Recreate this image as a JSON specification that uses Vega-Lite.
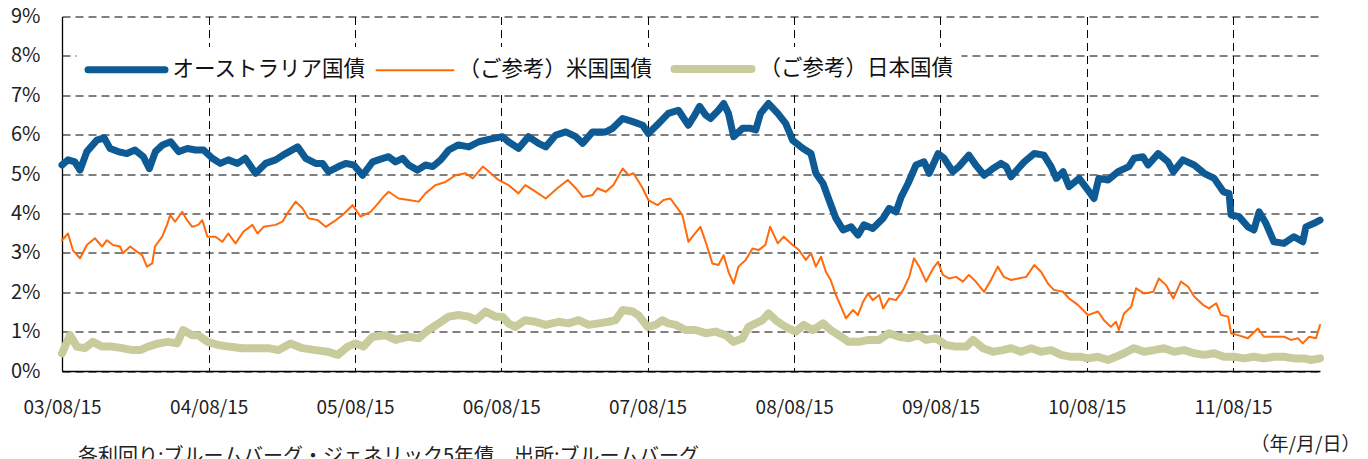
{
  "$schema": "https://vega.github.io/schema/vega-lite/v6.json",
  "autosize": {"type": "none"},
  "width": 1258,
  "height": 354.5,
  "padding": {"left": 62, "top": 16.5, "right": 48, "bottom": 88},
  "background": "white",
  "config": {"view": {"stroke": null}, "font": "Noto Sans CJK JP"},
  "title": {
    "text": "各利回り:ブルームバーグ・ジェネリック5年債　出所:ブルームバーグ",
    "orient": "bottom", "anchor": "start", "frame": "group", "dx": 16, "offset": -7,
    "fontSize": 20, "fontWeight": "normal", "color": "#222", "font": "Noto Sans CJK JP"
  },
  "data": {"values": [
    {"date": "2003-08-15", "series": "オーストラリア国債", "value": 5.23},
    {"date": "2003-08-30", "series": "オーストラリア国債", "value": 5.36},
    {"date": "2003-09-16", "series": "オーストラリア国債", "value": 5.31},
    {"date": "2003-09-29", "series": "オーストラリア国債", "value": 5.10},
    {"date": "2003-10-16", "series": "オーストラリア国債", "value": 5.57},
    {"date": "2003-11-10", "series": "オーストラリア国債", "value": 5.86},
    {"date": "2003-11-28", "series": "オーストラリア国債", "value": 5.92},
    {"date": "2003-12-13", "series": "オーストラリア国債", "value": 5.65},
    {"date": "2004-01-02", "series": "オーストラリア国債", "value": 5.57},
    {"date": "2004-01-24", "series": "オーストラリア国債", "value": 5.52},
    {"date": "2004-02-13", "series": "オーストラリア国債", "value": 5.61},
    {"date": "2004-03-05", "series": "オーストラリア国債", "value": 5.44},
    {"date": "2004-03-20", "series": "オーストラリア国債", "value": 5.14},
    {"date": "2004-04-04", "series": "オーストラリア国債", "value": 5.57},
    {"date": "2004-04-22", "series": "オーストラリア国債", "value": 5.74},
    {"date": "2004-05-12", "series": "オーストラリア国債", "value": 5.82},
    {"date": "2004-06-01", "series": "オーストラリア国債", "value": 5.57},
    {"date": "2004-06-23", "series": "オーストラリア国債", "value": 5.65},
    {"date": "2004-07-13", "series": "オーストラリア国債", "value": 5.61},
    {"date": "2004-08-02", "series": "オーストラリア国債", "value": 5.61},
    {"date": "2004-08-24", "series": "オーストラリア国債", "value": 5.40},
    {"date": "2004-09-13", "series": "オーストラリア国債", "value": 5.27},
    {"date": "2004-10-03", "series": "オーストラリア国債", "value": 5.36},
    {"date": "2004-10-26", "series": "オーストラリア国債", "value": 5.27},
    {"date": "2004-11-14", "series": "オーストラリア国債", "value": 5.40},
    {"date": "2004-12-10", "series": "オーストラリア国債", "value": 5.02},
    {"date": "2005-01-04", "series": "オーストラリア国債", "value": 5.27},
    {"date": "2005-01-29", "series": "オーストラリア国債", "value": 5.36},
    {"date": "2005-02-23", "series": "オーストラリア国債", "value": 5.52},
    {"date": "2005-03-25", "series": "オーストラリア国債", "value": 5.69},
    {"date": "2005-04-14", "series": "オーストラリア国債", "value": 5.40},
    {"date": "2005-05-09", "series": "オーストラリア国債", "value": 5.27},
    {"date": "2005-05-26", "series": "オーストラリア国債", "value": 5.27},
    {"date": "2005-06-10", "series": "オーストラリア国債", "value": 5.06},
    {"date": "2005-07-05", "series": "オーストラリア国債", "value": 5.19},
    {"date": "2005-07-23", "series": "オーストラリア国債", "value": 5.27},
    {"date": "2005-08-12", "series": "オーストラリア国債", "value": 5.23},
    {"date": "2005-09-03", "series": "オーストラリア国債", "value": 4.97},
    {"date": "2005-09-28", "series": "オーストラリア国債", "value": 5.31},
    {"date": "2005-10-18", "series": "オーストラリア国債", "value": 5.38},
    {"date": "2005-11-07", "series": "オーストラリア国債", "value": 5.44},
    {"date": "2005-11-24", "series": "オーストラリア国債", "value": 5.31},
    {"date": "2005-12-12", "series": "オーストラリア国債", "value": 5.40},
    {"date": "2005-12-27", "series": "オーストラリア国債", "value": 5.23},
    {"date": "2006-01-18", "series": "オーストラリア国債", "value": 5.10},
    {"date": "2006-02-07", "series": "オーストラリア国債", "value": 5.23},
    {"date": "2006-02-25", "series": "オーストラリア国債", "value": 5.19},
    {"date": "2006-03-17", "series": "オーストラリア国債", "value": 5.36},
    {"date": "2006-04-06", "series": "オーストラリア国債", "value": 5.61},
    {"date": "2006-04-30", "series": "オーストラリア国債", "value": 5.74},
    {"date": "2006-05-26", "series": "オーストラリア国債", "value": 5.69},
    {"date": "2006-06-20", "series": "オーストラリア国債", "value": 5.82},
    {"date": "2006-07-15", "series": "オーストラリア国債", "value": 5.88},
    {"date": "2006-08-18", "series": "オーストラリア国債", "value": 5.95},
    {"date": "2006-09-02", "series": "オーストラリア国債", "value": 5.82},
    {"date": "2006-09-27", "series": "オーストラリア国債", "value": 5.65},
    {"date": "2006-10-22", "series": "オーストラリア国債", "value": 5.95},
    {"date": "2006-11-16", "series": "オーストラリア国債", "value": 5.78},
    {"date": "2006-12-04", "series": "オーストラリア国債", "value": 5.69},
    {"date": "2006-12-29", "series": "オーストラリア国債", "value": 5.99},
    {"date": "2007-01-23", "series": "オーストラリア国債", "value": 6.07},
    {"date": "2007-02-17", "series": "オーストラリア国債", "value": 5.95},
    {"date": "2007-03-06", "series": "オーストラリア国債", "value": 5.78},
    {"date": "2007-03-31", "series": "オーストラリア国債", "value": 6.07},
    {"date": "2007-05-03", "series": "オーストラリア国債", "value": 6.07},
    {"date": "2007-05-20", "series": "オーストラリア国債", "value": 6.16},
    {"date": "2007-06-14", "series": "オーストラリア国債", "value": 6.41},
    {"date": "2007-07-09", "series": "オーストラリア国債", "value": 6.33},
    {"date": "2007-08-03", "series": "オーストラリア国債", "value": 6.24},
    {"date": "2007-08-17", "series": "オーストラリア国債", "value": 6.03},
    {"date": "2007-09-11", "series": "オーストラリア国債", "value": 6.28},
    {"date": "2007-10-06", "series": "オーストラリア国債", "value": 6.54},
    {"date": "2007-10-31", "series": "オーストラリア国債", "value": 6.62},
    {"date": "2007-11-25", "series": "オーストラリア国債", "value": 6.24},
    {"date": "2007-12-08", "series": "オーストラリア国債", "value": 6.45},
    {"date": "2007-12-23", "series": "オーストラリア国債", "value": 6.72},
    {"date": "2008-01-07", "series": "オーストラリア国債", "value": 6.50},
    {"date": "2008-01-19", "series": "オーストラリア国債", "value": 6.41},
    {"date": "2008-02-08", "series": "オーストラリア国債", "value": 6.62},
    {"date": "2008-02-21", "series": "オーストラリア国債", "value": 6.79},
    {"date": "2008-03-04", "series": "オーストラリア国債", "value": 6.54},
    {"date": "2008-03-17", "series": "オーストラリア国債", "value": 5.95},
    {"date": "2008-04-08", "series": "オーストラリア国債", "value": 6.16},
    {"date": "2008-04-28", "series": "オーストラリア国債", "value": 6.16},
    {"date": "2008-05-11", "series": "オーストラリア国債", "value": 6.12},
    {"date": "2008-05-23", "series": "オーストラリア国債", "value": 6.54},
    {"date": "2008-06-12", "series": "オーストラリア国債", "value": 6.79},
    {"date": "2008-07-05", "series": "オーストラリア国債", "value": 6.54},
    {"date": "2008-07-25", "series": "オーストラリア国債", "value": 6.28},
    {"date": "2008-08-11", "series": "オーストラリア国債", "value": 5.86},
    {"date": "2008-09-06", "series": "オーストラリア国債", "value": 5.65},
    {"date": "2008-09-26", "series": "オーストラリア国債", "value": 5.52},
    {"date": "2008-10-08", "series": "オーストラリア国債", "value": 5.02},
    {"date": "2008-10-26", "series": "オーストラリア国債", "value": 4.76},
    {"date": "2008-11-10", "series": "オーストラリア国債", "value": 4.34},
    {"date": "2008-11-27", "series": "オーストラリア国債", "value": 3.88},
    {"date": "2008-12-15", "series": "オーストラリア国債", "value": 3.58},
    {"date": "2009-01-04", "series": "オーストラリア国債", "value": 3.66},
    {"date": "2009-01-21", "series": "オーストラリア国債", "value": 3.45},
    {"date": "2009-02-05", "series": "オーストラリア国債", "value": 3.71},
    {"date": "2009-02-27", "series": "オーストラリア国債", "value": 3.62},
    {"date": "2009-03-25", "series": "オーストラリア国債", "value": 3.88},
    {"date": "2009-04-09", "series": "オーストラリア国債", "value": 4.13},
    {"date": "2009-04-26", "series": "オーストラリア国債", "value": 4.04},
    {"date": "2009-05-09", "series": "オーストラリア国債", "value": 4.42},
    {"date": "2009-05-26", "series": "オーストラリア国債", "value": 4.76},
    {"date": "2009-06-15", "series": "オーストラリア国債", "value": 5.23},
    {"date": "2009-07-05", "series": "オーストラリア国債", "value": 5.31},
    {"date": "2009-07-18", "series": "オーストラリア国債", "value": 5.02},
    {"date": "2009-08-09", "series": "オーストラリア国債", "value": 5.52},
    {"date": "2009-08-24", "series": "オーストラリア国債", "value": 5.40},
    {"date": "2009-09-15", "series": "オーストラリア国債", "value": 5.06},
    {"date": "2009-09-30", "series": "オーストラリア国債", "value": 5.19},
    {"date": "2009-10-25", "series": "オーストラリア国債", "value": 5.48},
    {"date": "2009-11-11", "series": "オーストラリア国債", "value": 5.23},
    {"date": "2009-12-02", "series": "オーストラリア国債", "value": 4.97},
    {"date": "2009-12-24", "series": "オーストラリア国債", "value": 5.14},
    {"date": "2010-01-13", "series": "オーストラリア国債", "value": 5.27},
    {"date": "2010-01-26", "series": "オーストラリア国債", "value": 5.19},
    {"date": "2010-02-07", "series": "オーストラリア国債", "value": 4.93},
    {"date": "2010-02-25", "series": "オーストラリア国債", "value": 5.14},
    {"date": "2010-03-12", "series": "オーストラリア国債", "value": 5.31},
    {"date": "2010-04-06", "series": "オーストラリア国債", "value": 5.52},
    {"date": "2010-04-30", "series": "オーストラリア国債", "value": 5.48},
    {"date": "2010-05-18", "series": "オーストラリア国債", "value": 5.19},
    {"date": "2010-05-31", "series": "オーストラリア国債", "value": 4.89},
    {"date": "2010-06-17", "series": "オーストラリア国債", "value": 5.06},
    {"date": "2010-07-02", "series": "オーストラリア国債", "value": 4.68},
    {"date": "2010-07-27", "series": "オーストラリア国債", "value": 4.89},
    {"date": "2010-08-18", "series": "オーストラリア国債", "value": 4.59},
    {"date": "2010-09-02", "series": "オーストラリア国債", "value": 4.38},
    {"date": "2010-09-14", "series": "オーストラリア国債", "value": 4.89},
    {"date": "2010-10-07", "series": "オーストラリア国債", "value": 4.85},
    {"date": "2010-11-01", "series": "オーストラリア国債", "value": 5.06},
    {"date": "2010-11-28", "series": "オーストラリア国債", "value": 5.19},
    {"date": "2010-12-11", "series": "オーストラリア国債", "value": 5.40},
    {"date": "2011-01-02", "series": "オーストラリア国債", "value": 5.44},
    {"date": "2011-01-15", "series": "オーストラリア国債", "value": 5.23},
    {"date": "2011-02-09", "series": "オーストラリア国債", "value": 5.52},
    {"date": "2011-03-06", "series": "オーストラリア国債", "value": 5.31},
    {"date": "2011-03-19", "series": "オーストラリア国債", "value": 5.06},
    {"date": "2011-04-12", "series": "オーストラリア国債", "value": 5.36},
    {"date": "2011-05-10", "series": "オーストラリア国債", "value": 5.23},
    {"date": "2011-06-04", "series": "オーストラリア国債", "value": 5.02},
    {"date": "2011-06-29", "series": "オーストラリア国債", "value": 4.89},
    {"date": "2011-07-22", "series": "オーストラリア国債", "value": 4.55},
    {"date": "2011-08-05", "series": "オーストラリア国債", "value": 4.51},
    {"date": "2011-08-10", "series": "オーストラリア国債", "value": 3.96},
    {"date": "2011-08-30", "series": "オーストラリア国債", "value": 3.92},
    {"date": "2011-09-21", "series": "オーストラリア国債", "value": 3.66},
    {"date": "2011-10-06", "series": "オーストラリア国債", "value": 3.58},
    {"date": "2011-10-19", "series": "オーストラリア国債", "value": 4.04},
    {"date": "2011-11-05", "series": "オーストラリア国債", "value": 3.75},
    {"date": "2011-11-25", "series": "オーストラリア国債", "value": 3.28},
    {"date": "2011-12-20", "series": "オーストラリア国債", "value": 3.24},
    {"date": "2012-01-14", "series": "オーストラリア国債", "value": 3.41},
    {"date": "2012-02-05", "series": "オーストラリア国債", "value": 3.28},
    {"date": "2012-02-13", "series": "オーストラリア国債", "value": 3.66},
    {"date": "2012-03-04", "series": "オーストラリア国債", "value": 3.75},
    {"date": "2012-03-19", "series": "オーストラリア国債", "value": 3.83},

    {"date": "2003-08-15", "series": "（ご参考）米国国債", "value": 3.32},
    {"date": "2003-08-30", "series": "（ご参考）米国国債", "value": 3.49},
    {"date": "2003-09-11", "series": "（ご参考）米国国債", "value": 3.07},
    {"date": "2003-09-29", "series": "（ご参考）米国国債", "value": 2.86},
    {"date": "2003-10-16", "series": "（ご参考）米国国債", "value": 3.20},
    {"date": "2003-11-05", "series": "（ご参考）米国国債", "value": 3.37},
    {"date": "2003-11-23", "series": "（ご参考）米国国債", "value": 3.16},
    {"date": "2003-12-05", "series": "（ご参考）米国国債", "value": 3.32},
    {"date": "2003-12-20", "series": "（ご参考）米国国債", "value": 3.20},
    {"date": "2004-01-07", "series": "（ご参考）米国国債", "value": 3.16},
    {"date": "2004-01-14", "series": "（ご参考）米国国債", "value": 2.99},
    {"date": "2004-02-01", "series": "（ご参考）米国国債", "value": 3.16},
    {"date": "2004-02-18", "series": "（ご参考）米国国債", "value": 3.03},
    {"date": "2004-03-02", "series": "（ご参考）米国国債", "value": 2.94},
    {"date": "2004-03-14", "series": "（ご参考）米国国債", "value": 2.65},
    {"date": "2004-03-27", "series": "（ご参考）米国国債", "value": 2.73},
    {"date": "2004-04-03", "series": "（ご参考）米国国債", "value": 3.16},
    {"date": "2004-04-21", "series": "（ご参考）米国国債", "value": 3.41},
    {"date": "2004-05-03", "series": "（ご参考）米国国債", "value": 3.71},
    {"date": "2004-05-11", "series": "（ご参考）米国国債", "value": 3.96},
    {"date": "2004-05-23", "series": "（ご参考）米国国債", "value": 3.79},
    {"date": "2004-06-10", "series": "（ご参考）米国国債", "value": 4.04},
    {"date": "2004-06-22", "series": "（ご参考）米国国債", "value": 3.83},
    {"date": "2004-07-05", "series": "（ご参考）米国国債", "value": 3.66},
    {"date": "2004-07-20", "series": "（ご参考）米国国債", "value": 3.71},
    {"date": "2004-07-30", "series": "（ご参考）米国国債", "value": 3.83},
    {"date": "2004-08-12", "series": "（ご参考）米国国債", "value": 3.41},
    {"date": "2004-09-01", "series": "（ご参考）米国国債", "value": 3.41},
    {"date": "2004-09-18", "series": "（ご参考）米国国債", "value": 3.28},
    {"date": "2004-10-03", "series": "（ご参考）米国国債", "value": 3.49},
    {"date": "2004-10-21", "series": "（ご参考）米国国債", "value": 3.24},
    {"date": "2004-11-10", "series": "（ご参考）米国国債", "value": 3.54},
    {"date": "2004-12-02", "series": "（ご参考）米国国債", "value": 3.71},
    {"date": "2004-12-15", "series": "（ご参考）米国国債", "value": 3.49},
    {"date": "2004-12-30", "series": "（ご参考）米国国債", "value": 3.66},
    {"date": "2005-01-29", "series": "（ご参考）米国国債", "value": 3.71},
    {"date": "2005-02-15", "series": "（ご参考）米国国債", "value": 3.79},
    {"date": "2005-03-02", "series": "（ご参考）米国国債", "value": 4.04},
    {"date": "2005-03-20", "series": "（ご参考）米国国債", "value": 4.30},
    {"date": "2005-04-06", "series": "（ご参考）米国国債", "value": 4.13},
    {"date": "2005-04-21", "series": "（ご参考）米国国債", "value": 3.88},
    {"date": "2005-05-14", "series": "（ご参考）米国国債", "value": 3.83},
    {"date": "2005-06-03", "series": "（ご参考）米国国債", "value": 3.66},
    {"date": "2005-06-23", "series": "（ご参考）米国国債", "value": 3.79},
    {"date": "2005-07-15", "series": "（ご参考）米国国債", "value": 3.96},
    {"date": "2005-08-09", "series": "（ご参考）米国国債", "value": 4.21},
    {"date": "2005-08-29", "series": "（ご参考）米国国債", "value": 3.92},
    {"date": "2005-09-23", "series": "（ご参考）米国国債", "value": 4.04},
    {"date": "2005-10-08", "series": "（ご参考）米国国債", "value": 4.21},
    {"date": "2005-10-25", "series": "（ご参考）米国国債", "value": 4.42},
    {"date": "2005-11-07", "series": "（ご参考）米国国債", "value": 4.55},
    {"date": "2005-12-02", "series": "（ご参考）米国国債", "value": 4.38},
    {"date": "2005-12-27", "series": "（ご参考）米国国債", "value": 4.34},
    {"date": "2006-01-21", "series": "（ご参考）米国国債", "value": 4.30},
    {"date": "2006-02-07", "series": "（ご参考）米国国債", "value": 4.51},
    {"date": "2006-03-04", "series": "（ご参考）米国国債", "value": 4.72},
    {"date": "2006-03-29", "series": "（ご参考）米国国債", "value": 4.80},
    {"date": "2006-04-23", "series": "（ご参考）米国国債", "value": 4.97},
    {"date": "2006-05-18", "series": "（ご参考）米国国債", "value": 5.02},
    {"date": "2006-06-05", "series": "（ご参考）米国国債", "value": 4.89},
    {"date": "2006-06-30", "series": "（ご参考）米国国債", "value": 5.19},
    {"date": "2006-07-20", "series": "（ご参考）米国国債", "value": 5.02},
    {"date": "2006-08-08", "series": "（ご参考）米国国債", "value": 4.85},
    {"date": "2006-09-02", "series": "（ご参考）米国国債", "value": 4.72},
    {"date": "2006-09-27", "series": "（ご参考）米国国債", "value": 4.51},
    {"date": "2006-10-14", "series": "（ご参考）米国国債", "value": 4.72},
    {"date": "2006-11-03", "series": "（ご参考）米国国債", "value": 4.59},
    {"date": "2006-12-04", "series": "（ご参考）米国国債", "value": 4.38},
    {"date": "2007-01-02", "series": "（ご参考）米国国債", "value": 4.64},
    {"date": "2007-01-28", "series": "（ご参考）米国国債", "value": 4.85},
    {"date": "2007-02-17", "series": "（ご参考）米国国債", "value": 4.64},
    {"date": "2007-03-06", "series": "（ご参考）米国国債", "value": 4.42},
    {"date": "2007-03-31", "series": "（ご参考）米国国債", "value": 4.47},
    {"date": "2007-04-12", "series": "（ご参考）米国国債", "value": 4.64},
    {"date": "2007-05-03", "series": "（ご参考）米国国債", "value": 4.55},
    {"date": "2007-05-22", "series": "（ご参考）米国国債", "value": 4.72},
    {"date": "2007-06-14", "series": "（ご参考）米国国債", "value": 5.14},
    {"date": "2007-06-29", "series": "（ご参考）米国国債", "value": 4.97},
    {"date": "2007-07-11", "series": "（ご参考）米国国債", "value": 5.02},
    {"date": "2007-08-03", "series": "（ご参考）米国国債", "value": 4.64},
    {"date": "2007-08-17", "series": "（ご参考）米国国債", "value": 4.34},
    {"date": "2007-09-09", "series": "（ご参考）米国国債", "value": 4.21},
    {"date": "2007-09-24", "series": "（ご参考）米国国債", "value": 4.34},
    {"date": "2007-10-11", "series": "（ご参考）米国国債", "value": 4.38},
    {"date": "2007-10-29", "series": "（ご参考）米国国債", "value": 4.13},
    {"date": "2007-11-10", "series": "（ご参考）米国国債", "value": 3.96},
    {"date": "2007-11-25", "series": "（ご参考）米国国債", "value": 3.28},
    {"date": "2007-12-08", "series": "（ご参考）米国国債", "value": 3.45},
    {"date": "2007-12-25", "series": "（ご参考）米国国債", "value": 3.66},
    {"date": "2008-01-07", "series": "（ご参考）米国国債", "value": 3.28},
    {"date": "2008-01-24", "series": "（ご参考）米国国債", "value": 2.73},
    {"date": "2008-02-08", "series": "（ご参考）米国国債", "value": 2.69},
    {"date": "2008-02-21", "series": "（ご参考）米国国債", "value": 2.94},
    {"date": "2008-03-04", "series": "（ご参考）米国国債", "value": 2.52},
    {"date": "2008-03-17", "series": "（ご参考）米国国債", "value": 2.22},
    {"date": "2008-03-29", "series": "（ご参考）米国国債", "value": 2.65},
    {"date": "2008-04-16", "series": "（ご参考）米国国債", "value": 2.82},
    {"date": "2008-05-03", "series": "（ご参考）米国国債", "value": 3.11},
    {"date": "2008-05-18", "series": "（ご参考）米国国債", "value": 3.07},
    {"date": "2008-06-04", "series": "（ご参考）米国国債", "value": 3.20},
    {"date": "2008-06-16", "series": "（ご参考）米国国債", "value": 3.66},
    {"date": "2008-07-05", "series": "（ご参考）米国国債", "value": 3.24},
    {"date": "2008-07-20", "series": "（ご参考）米国国債", "value": 3.41},
    {"date": "2008-08-11", "series": "（ご参考）米国国債", "value": 3.20},
    {"date": "2008-08-27", "series": "（ご参考）米国国債", "value": 3.07},
    {"date": "2008-09-13", "series": "（ご参考）米国国債", "value": 2.82},
    {"date": "2008-09-26", "series": "（ご参考）米国国債", "value": 2.99},
    {"date": "2008-10-08", "series": "（ご参考）米国国債", "value": 2.65},
    {"date": "2008-10-21", "series": "（ご参考）米国国債", "value": 2.90},
    {"date": "2008-11-02", "series": "（ご参考）米国国債", "value": 2.52},
    {"date": "2008-11-14", "series": "（ご参考）米国国債", "value": 2.31},
    {"date": "2008-11-27", "series": "（ご参考）米国国債", "value": 1.93},
    {"date": "2008-12-10", "series": "（ご参考）米国国債", "value": 1.63},
    {"date": "2008-12-22", "series": "（ご参考）米国国債", "value": 1.34},
    {"date": "2009-01-09", "series": "（ご参考）米国国債", "value": 1.55},
    {"date": "2009-01-21", "series": "（ご参考）米国国債", "value": 1.42},
    {"date": "2009-02-03", "series": "（ご参考）米国国債", "value": 1.76},
    {"date": "2009-02-15", "series": "（ご参考）米国国債", "value": 1.97},
    {"date": "2009-02-27", "series": "（ご参考）米国国債", "value": 1.80},
    {"date": "2009-03-15", "series": "（ご参考）米国国債", "value": 1.93},
    {"date": "2009-03-25", "series": "（ご参考）米国国債", "value": 1.59},
    {"date": "2009-04-09", "series": "（ご参考）米国国債", "value": 1.84},
    {"date": "2009-04-26", "series": "（ご参考）米国国債", "value": 1.80},
    {"date": "2009-05-14", "series": "（ご参考）米国国債", "value": 2.06},
    {"date": "2009-05-29", "series": "（ご参考）米国国債", "value": 2.39},
    {"date": "2009-06-10", "series": "（ご参考）米国国債", "value": 2.86},
    {"date": "2009-06-23", "series": "（ご参考）米国国債", "value": 2.65},
    {"date": "2009-07-10", "series": "（ご参考）米国国債", "value": 2.27},
    {"date": "2009-07-28", "series": "（ご参考）米国国債", "value": 2.61},
    {"date": "2009-08-09", "series": "（ご参考）米国国債", "value": 2.77},
    {"date": "2009-08-21", "series": "（ご参考）米国国債", "value": 2.44},
    {"date": "2009-09-05", "series": "（ご参考）米国国債", "value": 2.35},
    {"date": "2009-09-23", "series": "（ご参考）米国国債", "value": 2.39},
    {"date": "2009-10-10", "series": "（ご参考）米国国債", "value": 2.27},
    {"date": "2009-10-25", "series": "（ご参考）米国国債", "value": 2.44},
    {"date": "2009-11-11", "series": "（ご参考）米国国債", "value": 2.27},
    {"date": "2009-12-02", "series": "（ご参考）米国国債", "value": 2.01},
    {"date": "2009-12-19", "series": "（ご参考）米国国債", "value": 2.31},
    {"date": "2010-01-05", "series": "（ご参考）米国国債", "value": 2.65},
    {"date": "2010-01-20", "series": "（ご参考）米国国債", "value": 2.39},
    {"date": "2010-02-07", "series": "（ご参考）米国国債", "value": 2.31},
    {"date": "2010-02-25", "series": "（ご参考）米国国債", "value": 2.35},
    {"date": "2010-03-17", "series": "（ご参考）米国国債", "value": 2.39},
    {"date": "2010-04-06", "series": "（ご参考）米国国債", "value": 2.69},
    {"date": "2010-04-23", "series": "（ご参考）米国国債", "value": 2.52},
    {"date": "2010-05-10", "series": "（ご参考）米国国債", "value": 2.22},
    {"date": "2010-05-25", "series": "（ご参考）米国国債", "value": 2.06},
    {"date": "2010-06-17", "series": "（ご参考）米国国債", "value": 2.01},
    {"date": "2010-07-02", "series": "（ご参考）米国国債", "value": 1.84},
    {"date": "2010-07-24", "series": "（ご参考）米国国債", "value": 1.68},
    {"date": "2010-08-18", "series": "（ご参考）米国国債", "value": 1.42},
    {"date": "2010-09-12", "series": "（ご参考）米国国債", "value": 1.51},
    {"date": "2010-09-27", "series": "（ご参考）米国国債", "value": 1.29},
    {"date": "2010-10-14", "series": "（ご参考）米国国債", "value": 1.12},
    {"date": "2010-10-27", "series": "（ご参考）米国国債", "value": 1.25},
    {"date": "2010-11-03", "series": "（ご参考）米国国債", "value": 1.04},
    {"date": "2010-11-16", "series": "（ご参考）米国国債", "value": 1.46},
    {"date": "2010-12-04", "series": "（ご参考）米国国債", "value": 1.63},
    {"date": "2010-12-16", "series": "（ご参考）米国国債", "value": 2.10},
    {"date": "2011-01-05", "series": "（ご参考）米国国債", "value": 1.97},
    {"date": "2011-01-28", "series": "（ご参考）米国国債", "value": 2.01},
    {"date": "2011-02-11", "series": "（ご参考）米国国債", "value": 2.35},
    {"date": "2011-03-01", "series": "（ご参考）米国国債", "value": 2.18},
    {"date": "2011-03-19", "series": "（ご参考）米国国債", "value": 1.84},
    {"date": "2011-04-07", "series": "（ご参考）米国国債", "value": 2.27},
    {"date": "2011-04-25", "series": "（ご参考）米国国債", "value": 2.14},
    {"date": "2011-05-10", "series": "（ご参考）米国国債", "value": 1.89},
    {"date": "2011-06-01", "series": "（ご参考）米国国債", "value": 1.68},
    {"date": "2011-06-16", "series": "（ご参考）米国国債", "value": 1.59},
    {"date": "2011-07-04", "series": "（ご参考）米国国債", "value": 1.72},
    {"date": "2011-07-16", "series": "（ご参考）米国国債", "value": 1.42},
    {"date": "2011-08-03", "series": "（ご参考）米国国債", "value": 1.38},
    {"date": "2011-08-10", "series": "（ご参考）米国国債", "value": 0.96},
    {"date": "2011-08-27", "series": "（ご参考）米国国債", "value": 0.91},
    {"date": "2011-09-21", "series": "（ご参考）米国国債", "value": 0.83},
    {"date": "2011-10-16", "series": "（ご参考）米国国債", "value": 1.08},
    {"date": "2011-10-31", "series": "（ご参考）米国国債", "value": 0.87},
    {"date": "2011-11-25", "series": "（ご参考）米国国債", "value": 0.87},
    {"date": "2011-12-20", "series": "（ご参考）米国国債", "value": 0.87},
    {"date": "2012-01-07", "series": "（ご参考）米国国債", "value": 0.79},
    {"date": "2012-01-24", "series": "（ご参考）米国国債", "value": 0.83},
    {"date": "2012-02-05", "series": "（ご参考）米国国債", "value": 0.70},
    {"date": "2012-02-21", "series": "（ご参考）米国国債", "value": 0.87},
    {"date": "2012-03-09", "series": "（ご参考）米国国債", "value": 0.83},
    {"date": "2012-03-19", "series": "（ご参考）米国国債", "value": 1.17},

    {"date": "2003-08-15", "series": "（ご参考）日本国債", "value": 0.45},
    {"date": "2003-09-04", "series": "（ご参考）日本国債", "value": 0.91},
    {"date": "2003-09-21", "series": "（ご参考）日本国債", "value": 0.62},
    {"date": "2003-10-11", "series": "（ご参考）日本国債", "value": 0.58},
    {"date": "2003-10-31", "series": "（ご参考）日本国債", "value": 0.74},
    {"date": "2003-11-23", "series": "（ご参考）日本国債", "value": 0.62},
    {"date": "2003-12-18", "series": "（ご参考）日本国債", "value": 0.62},
    {"date": "2004-01-12", "series": "（ご参考）日本国債", "value": 0.58},
    {"date": "2004-02-06", "series": "（ご参考）日本国債", "value": 0.53},
    {"date": "2004-02-26", "series": "（ご参考）日本国債", "value": 0.53},
    {"date": "2004-03-17", "series": "（ご参考）日本国債", "value": 0.62},
    {"date": "2004-04-11", "series": "（ご参考）日本国債", "value": 0.70},
    {"date": "2004-05-06", "series": "（ご参考）日本国債", "value": 0.74},
    {"date": "2004-05-28", "series": "（ご参考）日本国債", "value": 0.70},
    {"date": "2004-06-12", "series": "（ご参考）日本国債", "value": 1.04},
    {"date": "2004-07-05", "series": "（ご参考）日本国債", "value": 0.91},
    {"date": "2004-07-20", "series": "（ご参考）日本国債", "value": 0.91},
    {"date": "2004-08-12", "series": "（ご参考）日本国債", "value": 0.74},
    {"date": "2004-09-08", "series": "（ご参考）日本国債", "value": 0.66},
    {"date": "2004-10-03", "series": "（ご参考）日本国債", "value": 0.62},
    {"date": "2004-11-07", "series": "（ご参考）日本国債", "value": 0.58},
    {"date": "2004-12-10", "series": "（ご参考）日本国債", "value": 0.58},
    {"date": "2005-01-11", "series": "（ご参考）日本国債", "value": 0.58},
    {"date": "2005-02-05", "series": "（ご参考）日本国債", "value": 0.53},
    {"date": "2005-03-07", "series": "（ご参考）日本国債", "value": 0.70},
    {"date": "2005-04-06", "series": "（ご参考）日本国債", "value": 0.58},
    {"date": "2005-05-09", "series": "（ご参考）日本国債", "value": 0.53},
    {"date": "2005-06-07", "series": "（ご参考）日本国債", "value": 0.49},
    {"date": "2005-07-03", "series": "（ご参考）日本国債", "value": 0.41},
    {"date": "2005-07-28", "series": "（ご参考）日本国債", "value": 0.62},
    {"date": "2005-08-16", "series": "（ご参考）日本国債", "value": 0.70},
    {"date": "2005-09-05", "series": "（ご参考）日本国債", "value": 0.62},
    {"date": "2005-09-28", "series": "（ご参考）日本国債", "value": 0.87},
    {"date": "2005-10-30", "series": "（ご参考）日本国債", "value": 0.91},
    {"date": "2005-11-24", "series": "（ご参考）日本国債", "value": 0.79},
    {"date": "2005-12-27", "series": "（ご参考）日本国債", "value": 0.87},
    {"date": "2006-01-21", "series": "（ご参考）日本国債", "value": 0.83},
    {"date": "2006-02-14", "series": "（ご参考）日本国債", "value": 1.04},
    {"date": "2006-03-12", "series": "（ご参考）日本国債", "value": 1.21},
    {"date": "2006-04-06", "series": "（ご参考）日本国債", "value": 1.38},
    {"date": "2006-04-30", "series": "（ご参考）日本国債", "value": 1.42},
    {"date": "2006-05-26", "series": "（ご参考）日本国債", "value": 1.38},
    {"date": "2006-06-12", "series": "（ご参考）日本国債", "value": 1.29},
    {"date": "2006-07-07", "series": "（ご参考）日本国債", "value": 1.51},
    {"date": "2006-08-01", "series": "（ご参考）日本国債", "value": 1.38},
    {"date": "2006-08-18", "series": "（ご参考）日本国債", "value": 1.38},
    {"date": "2006-09-02", "series": "（ご参考）日本国債", "value": 1.21},
    {"date": "2006-09-19", "series": "（ご参考）日本国債", "value": 1.12},
    {"date": "2006-10-14", "series": "（ご参考）日本国債", "value": 1.29},
    {"date": "2006-11-08", "series": "（ご参考）日本国債", "value": 1.25},
    {"date": "2006-12-04", "series": "（ご参考）日本国債", "value": 1.17},
    {"date": "2007-01-05", "series": "（ご参考）日本国債", "value": 1.25},
    {"date": "2007-01-30", "series": "（ご参考）日本国債", "value": 1.21},
    {"date": "2007-02-24", "series": "（ご参考）日本国債", "value": 1.29},
    {"date": "2007-03-21", "series": "（ご参考）日本国債", "value": 1.17},
    {"date": "2007-04-15", "series": "（ご参考）日本国債", "value": 1.21},
    {"date": "2007-05-10", "series": "（ご参考）日本国債", "value": 1.25},
    {"date": "2007-05-27", "series": "（ご参考）日本国債", "value": 1.29},
    {"date": "2007-06-14", "series": "（ご参考）日本国債", "value": 1.55},
    {"date": "2007-07-09", "series": "（ご参考）日本国債", "value": 1.51},
    {"date": "2007-07-23", "series": "（ご参考）日本国債", "value": 1.42},
    {"date": "2007-08-15", "series": "（ご参考）日本国債", "value": 1.12},
    {"date": "2007-09-04", "series": "（ご参考）日本国債", "value": 1.17},
    {"date": "2007-09-21", "series": "（ご参考）日本国債", "value": 1.29},
    {"date": "2007-10-06", "series": "（ご参考）日本国債", "value": 1.21},
    {"date": "2007-10-24", "series": "（ご参考）日本国債", "value": 1.17},
    {"date": "2007-11-18", "series": "（ご参考）日本国債", "value": 1.04},
    {"date": "2007-12-13", "series": "（ご参考）日本国債", "value": 1.04},
    {"date": "2008-01-07", "series": "（ご参考）日本国債", "value": 0.96},
    {"date": "2008-02-01", "series": "（ご参考）日本国債", "value": 1.00},
    {"date": "2008-02-26", "series": "（ご参考）日本国債", "value": 0.91},
    {"date": "2008-03-17", "series": "（ご参考）日本国債", "value": 0.74},
    {"date": "2008-04-08", "series": "（ご参考）日本国債", "value": 0.83},
    {"date": "2008-04-23", "series": "（ご参考）日本国債", "value": 1.12},
    {"date": "2008-05-11", "series": "（ご参考）日本国債", "value": 1.21},
    {"date": "2008-05-28", "series": "（ご参考）日本国債", "value": 1.29},
    {"date": "2008-06-12", "series": "（ご参考）日本国債", "value": 1.46},
    {"date": "2008-06-30", "series": "（ご参考）日本国債", "value": 1.29},
    {"date": "2008-07-17", "series": "（ご参考）日本国債", "value": 1.17},
    {"date": "2008-08-01", "series": "（ご参考）日本国債", "value": 1.08},
    {"date": "2008-08-19", "series": "（ご参考）日本国債", "value": 1.00},
    {"date": "2008-09-08", "series": "（ご参考）日本国債", "value": 1.17},
    {"date": "2008-09-30", "series": "（ご参考）日本国債", "value": 1.04},
    {"date": "2008-10-26", "series": "（ご参考）日本国債", "value": 1.21},
    {"date": "2008-11-14", "series": "（ご参考）日本国債", "value": 1.04},
    {"date": "2008-12-04", "series": "（ご参考）日本国債", "value": 0.91},
    {"date": "2008-12-29", "series": "（ご参考）日本国債", "value": 0.74},
    {"date": "2009-01-23", "series": "（ご参考）日本国債", "value": 0.74},
    {"date": "2009-02-17", "series": "（ご参考）日本国債", "value": 0.79},
    {"date": "2009-03-15", "series": "（ご参考）日本国債", "value": 0.79},
    {"date": "2009-04-09", "series": "（ご参考）日本国債", "value": 0.96},
    {"date": "2009-05-03", "series": "（ご参考）日本国債", "value": 0.87},
    {"date": "2009-05-29", "series": "（ご参考）日本国債", "value": 0.83},
    {"date": "2009-06-20", "series": "（ご参考）日本国債", "value": 0.91},
    {"date": "2009-07-10", "series": "（ご参考）日本国債", "value": 0.79},
    {"date": "2009-08-04", "series": "（ご参考）日本国債", "value": 0.83},
    {"date": "2009-08-29", "series": "（ご参考）日本国債", "value": 0.66},
    {"date": "2009-09-23", "series": "（ご参考）日本国債", "value": 0.62},
    {"date": "2009-10-18", "series": "（ご参考）日本国債", "value": 0.62},
    {"date": "2009-11-04", "series": "（ご参考）日本国債", "value": 0.79},
    {"date": "2009-11-29", "series": "（ご参考）日本国債", "value": 0.58},
    {"date": "2009-12-24", "series": "（ご参考）日本国債", "value": 0.49},
    {"date": "2010-01-18", "series": "（ご参考）日本国債", "value": 0.53},
    {"date": "2010-02-07", "series": "（ご参考）日本国債", "value": 0.58},
    {"date": "2010-03-04", "series": "（ご参考）日本国債", "value": 0.49},
    {"date": "2010-03-29", "series": "（ご参考）日本国債", "value": 0.58},
    {"date": "2010-04-23", "series": "（ご参考）日本国債", "value": 0.49},
    {"date": "2010-05-18", "series": "（ご参考）日本国債", "value": 0.53},
    {"date": "2010-06-12", "series": "（ご参考）日本国債", "value": 0.41},
    {"date": "2010-07-07", "series": "（ご参考）日本国債", "value": 0.36},
    {"date": "2010-08-01", "series": "（ご参考）日本国債", "value": 0.36},
    {"date": "2010-08-18", "series": "（ご参考）日本国債", "value": 0.32},
    {"date": "2010-09-12", "series": "（ご参考）日本国債", "value": 0.36},
    {"date": "2010-10-07", "series": "（ご参考）日本国債", "value": 0.28},
    {"date": "2010-10-27", "series": "（ご参考）日本国債", "value": 0.36},
    {"date": "2010-11-16", "series": "（ご参考）日本国債", "value": 0.45},
    {"date": "2010-12-11", "series": "（ご参考）日本国債", "value": 0.58},
    {"date": "2011-01-05", "series": "（ご参考）日本国債", "value": 0.49},
    {"date": "2011-01-30", "series": "（ご参考）日本国債", "value": 0.53},
    {"date": "2011-02-24", "series": "（ご参考）日本国債", "value": 0.58},
    {"date": "2011-03-21", "series": "（ご参考）日本国債", "value": 0.49},
    {"date": "2011-04-15", "series": "（ご参考）日本国債", "value": 0.53},
    {"date": "2011-05-10", "series": "（ご参考）日本国債", "value": 0.45},
    {"date": "2011-06-04", "series": "（ご参考）日本国債", "value": 0.41},
    {"date": "2011-06-29", "series": "（ご参考）日本国債", "value": 0.45},
    {"date": "2011-07-23", "series": "（ご参考）日本国債", "value": 0.36},
    {"date": "2011-08-17", "series": "（ご参考）日本国債", "value": 0.36},
    {"date": "2011-09-11", "series": "（ご参考）日本国債", "value": 0.32},
    {"date": "2011-10-06", "series": "（ご参考）日本国債", "value": 0.36},
    {"date": "2011-10-31", "series": "（ご参考）日本国債", "value": 0.32},
    {"date": "2011-11-25", "series": "（ご参考）日本国債", "value": 0.36},
    {"date": "2011-12-20", "series": "（ご参考）日本国債", "value": 0.36},
    {"date": "2012-01-14", "series": "（ご参考）日本国債", "value": 0.32},
    {"date": "2012-02-08", "series": "（ご参考）日本国債", "value": 0.32},
    {"date": "2012-02-26", "series": "（ご参考）日本国債", "value": 0.28},
    {"date": "2012-03-19", "series": "（ご参考）日本国債", "value": 0.32}
  ]},
  "mark": {"type": "line", "strokeCap": "round", "strokeJoin": "round"},
  "encoding": {
    "x": {
      "field": "date", "type": "temporal",
      "scale": {"type": "utc", "domain": [{"year": 2003, "month": 8, "date": 15, "utc": true}, {"year": 2012, "month": 3, "date": 19, "utc": true}]},
      "axis": {
        "values": [
          {"year": 2003, "month": 8, "date": 15, "utc": true},
          {"year": 2004, "month": 8, "date": 15, "utc": true},
          {"year": 2005, "month": 8, "date": 15, "utc": true},
          {"year": 2006, "month": 8, "date": 15, "utc": true},
          {"year": 2007, "month": 8, "date": 15, "utc": true},
          {"year": 2008, "month": 8, "date": 15, "utc": true},
          {"year": 2009, "month": 8, "date": 15, "utc": true},
          {"year": 2010, "month": 8, "date": 15, "utc": true},
          {"year": 2011, "month": 8, "date": 15, "utc": true}
        ],
        "labelExpr": "utcFormat(datum.value, '%y/%m/%d')",
        "grid": true, "gridDash": [8, 5], "gridColor": "#000", "gridOpacity": 1, "gridWidth": 1,
        "ticks": false, "domainColor": "#000", "domainWidth": 1.3,
        "labelFontSize": 19, "labelColor": "#222", "labelPadding": 27, "labelFont": "Noto Sans CJK JP",
        "labelOverlap": false, "labelFlush": false, "labelBound": false,
        "title": "（年/月/日）", "titleFontSize": 19, "titleFontWeight": "normal", "titleColor": "#222",
        "titleFont": "Noto Sans CJK JP", "titleX": 1298, "titleY": 73, "titleAlign": "right",
        "titleBaseline": "middle", "titleAnchor": "end"
      }
    },
    "y": {
      "field": "value", "type": "quantitative",
      "scale": {"domain": [0, 9], "nice": false, "zero": true},
      "axis": {
        "values": [0, 1, 2, 3, 4, 5, 6, 7, 8, 9],
        "labelExpr": "datum.value + '%'",
        "grid": true, "gridDash": [8, 5], "gridColor": "#000", "gridOpacity": 1, "gridWidth": 1,
        "ticks": false, "domainColor": "#000", "domainWidth": 1.3,
        "labelFontSize": 20, "labelColor": "#222", "labelPadding": 22, "labelFont": "Noto Sans CJK JP",
        "title": null
      }
    },
    "color": {
      "field": "series", "type": "nominal",
      "scale": {
        "domain": ["オーストラリア国債", "（ご参考）米国国債", "（ご参考）日本国債"],
        "range": ["#0E5A94", "#FF6A0D", "#C8CB9B"]
      },
      "legend": {
        "title": null, "orient": "none", "legendX": 14.5, "legendY": 30.5, "direction": "horizontal",
        "symbolType": "M-1,0L6.7,0", "symbolSize": 400, "symbolOpacity": 1,
        "labelFontSize": 21.5, "labelFont": "Noto Sans CJK JP", "labelColor": "#111", "labelOffset": 61,
        "labelLimit": 0, "columnPadding": 6, "fillColor": "white", "padding": 8,
        "encode": {"symbols": {"update": {"strokeCap": {"value": "round"}}}}
      }
    },
    "strokeWidth": {
      "field": "series", "type": "nominal",
      "scale": {
        "type": "ordinal",
        "domain": ["オーストラリア国債", "（ご参考）米国国債", "（ご参考）日本国債"],
        "range": [7, 2, 8]
      }
    }
  }
}
